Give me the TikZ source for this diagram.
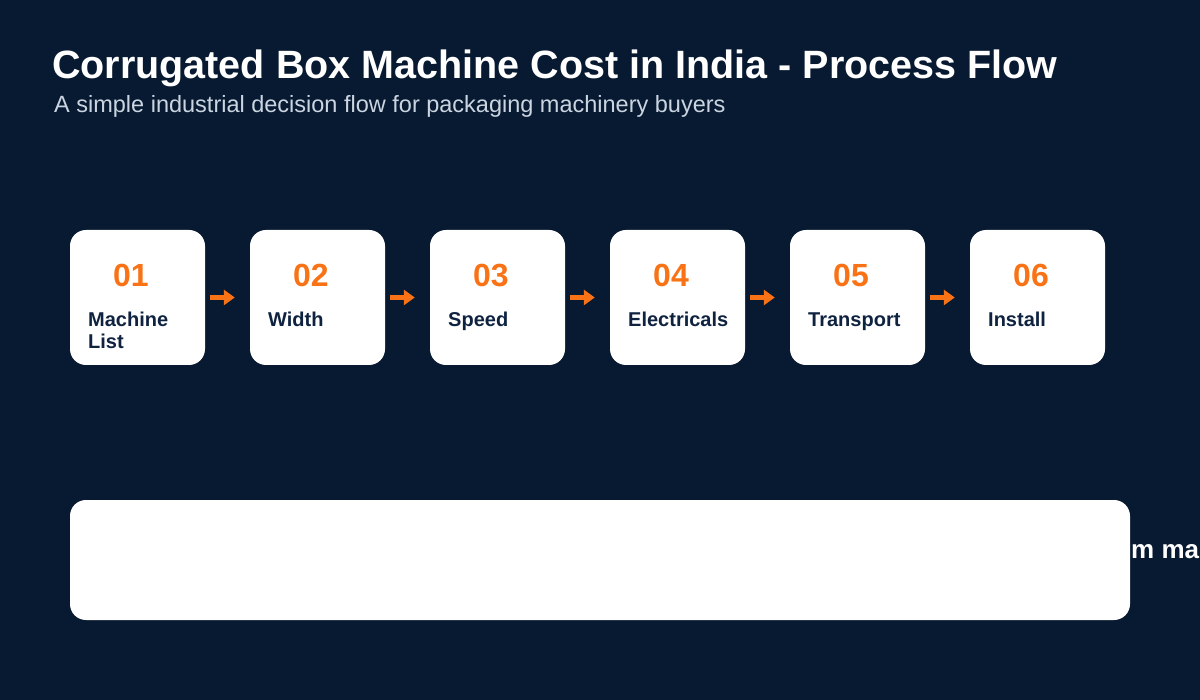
\documentclass[tikz,border=0pt]{standalone}
\usepackage{fontspec}
\setmainfont{Liberation Sans}
\usetikzlibrary{arrows.meta}

\definecolor{navy}{HTML}{081A31}
\definecolor{ink}{HTML}{0F2340}
\definecolor{flow}{HTML}{F97316}
\definecolor{muted}{HTML}{CBD5E1}

\tikzset{
  stepcard/.style={fill=white,rounded corners=16pt,minimum width=135pt,minimum height=135pt,inner sep=0pt},
  stepnum/.style={anchor=base,text=flow,font=\bfseries\fontsize{32}{36}\selectfont,inner sep=0pt},
  steplabel/.style={anchor=base west,text=ink,align=left,font=\bfseries\fontsize{20}{22}\selectfont,inner sep=0pt},
  flowarrow/.style={draw=flow,line width=5pt,-{Triangle[length=11pt,width=15pt]},shorten <=5pt,shorten >=15pt}
}

\begin{document}
\begin{tikzpicture}[x=1pt,y=-1pt]

        \fill[navy] (0,0) rectangle (1200,700);
        \useasboundingbox (0,0) rectangle (1200,700);

        \node[anchor=base west,text=white,font=\bfseries\fontsize{39.5}{44}\selectfont,inner sep=0pt] (title) at (52,79)
          {Corrugated Box Machine Cost in India - Process Flow};
        \node[anchor=base west,text=muted,font=\fontsize{23.5}{26}\selectfont,inner sep=0pt] (subtitle) at (54,113)
          {A simple industrial decision flow for packaging machinery buyers};

        \begin{scope}[every node/.style={stepcard}]
          \node (1) at (137.5,297.5)  {};
          \node (2) at (317.5,297.5)  {};
          \node (3) at (497.5,297.5)  {};
          \node (4) at (677.5,297.5)  {};
          \node (5) at (857.5,297.5)  {};
          \node (6) at (1037.5,297.5) {};
        \end{scope}

        \node[stepnum] (n1) at (131,287)  {01};
        \node[stepnum] (n2) at (311,287)  {02};
        \node[stepnum] (n3) at (491,287)  {03};
        \node[stepnum] (n4) at (671,287)  {04};
        \node[stepnum] (n5) at (851,287)  {05};
        \node[stepnum] (n6) at (1031,287) {06};

        % two-line label: base is the last line
        \node[steplabel] (l1) at (88,349)  {Machine\\List};
        \node[steplabel] (l2) at (268,327) {Width};
        \node[steplabel] (l3) at (448,327) {Speed};
        \node[steplabel] (l4) at (628,327) {Electricals};
        \node[steplabel] (l5) at (808,327) {Transport};
        \node[steplabel] (l6) at (988,327) {Install};

        \path[flowarrow] (1) -- (2);
        \path[flowarrow] (2) -- (3);
        \path[flowarrow] (3) -- (4);
        \path[flowarrow] (4) -- (5);
        \path[flowarrow] (5) -- (6);

        \node[fill=white,rounded corners=16pt,minimum width=1060pt,minimum height=120pt,inner sep=0pt] (note) at (600,560) {};
        \node[anchor=base west,text=white,font=\bfseries\fontsize{26}{29}\selectfont,inner sep=0pt] (notetext) at (1131,558) {m ma};

      \end{tikzpicture}
\end{document}
